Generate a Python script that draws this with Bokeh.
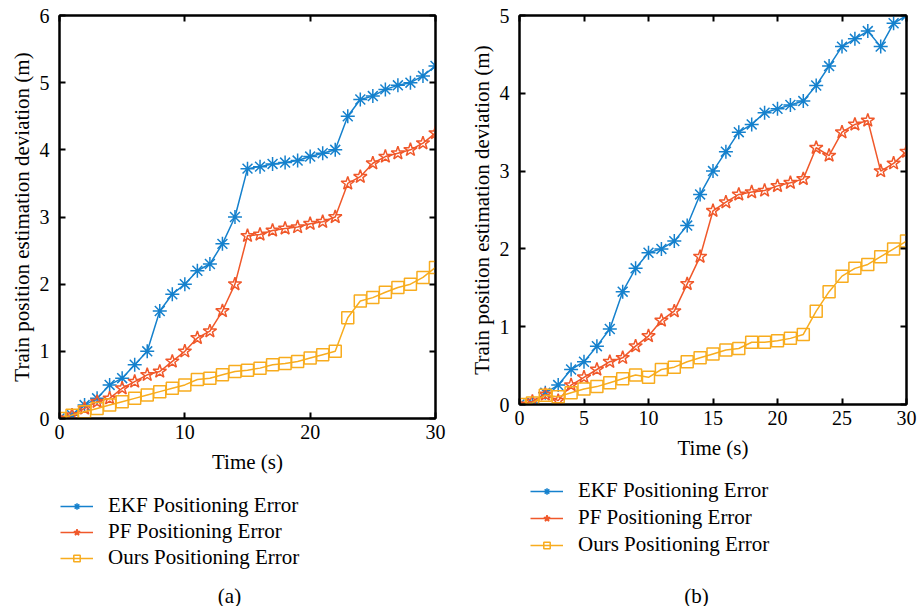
from bokeh.plotting import figure
from bokeh.layouts import row, column
from bokeh.core.properties import value
from bokeh.models import Range1d, LinearAxis, FixedTicker, Legend, LegendItem, Label
from bokeh.embed import file_html
from bokeh.resources import INLINE

# ---------------- data ----------------
time_s = list(range(31))

ekf_a = [0, 0.05, 0.2, 0.3, 0.5, 0.6, 0.8, 1.0, 1.6, 1.85, 2.0, 2.2, 2.3, 2.6, 3.0,
         3.72, 3.75, 3.79, 3.81, 3.84, 3.9, 3.95, 4.0, 4.5, 4.75, 4.8, 4.9, 4.96, 5.0, 5.1, 5.25]
pf_a = [0, 0.05, 0.15, 0.25, 0.3, 0.45, 0.55, 0.65, 0.7, 0.85, 1.0, 1.2, 1.3, 1.6, 2.0,
        2.72, 2.74, 2.8, 2.83, 2.85, 2.9, 2.93, 3.0, 3.5, 3.6, 3.8, 3.9, 3.95, 4.0, 4.1, 4.25]
ours_a = [0, 0.05, 0.1, 0.15, 0.2, 0.25, 0.3, 0.35, 0.4, 0.45, 0.5, 0.58, 0.6, 0.65, 0.7,
          0.72, 0.75, 0.8, 0.82, 0.85, 0.9, 0.95, 1.0, 1.5, 1.75, 1.8, 1.88, 1.95, 2.0, 2.1, 2.25]

ekf_b = [0, 0.02, 0.15, 0.25, 0.45, 0.55, 0.75, 0.97, 1.45, 1.75, 1.95, 2.0, 2.1, 2.3, 2.7,
         3.0, 3.25, 3.5, 3.6, 3.75, 3.8, 3.85, 3.9, 4.1, 4.35, 4.6, 4.7, 4.8, 4.6, 4.9, 5.0]
pf_b = [0, 0.04, 0.13, 0.05, 0.25, 0.35, 0.45, 0.55, 0.6, 0.75, 0.88, 1.08, 1.2, 1.55, 1.9,
        2.49, 2.6, 2.7, 2.73, 2.75, 2.81, 2.85, 2.9, 3.3, 3.2, 3.5, 3.6, 3.65, 3.0, 3.1, 3.25]
ours_b = [0, 0.02, 0.12, 0.1, 0.15, 0.2, 0.23, 0.28, 0.33, 0.38, 0.35, 0.45, 0.48, 0.55, 0.6,
          0.65, 0.7, 0.72, 0.8, 0.8, 0.82, 0.85, 0.9, 1.2, 1.45, 1.65, 1.75, 1.8, 1.9, 2.0, 2.1]

series_names = ["EKF Positioning Error", "PF Positioning Error", "Ours Positioning Error"]
x_ticks_a = [0, 10, 20, 30]
x_ticks_b = [0, 5, 10, 15, 20, 25, 30]
y_ticks_a = [0, 1, 2, 3, 4, 5, 6]
y_ticks_b = [0, 1, 2, 3, 4, 5]

COLORS = ["#1581CD", "#F0582A", "#F8AC1E"]
MARKERS = ["asterisk", "star", "square"]
MSIZES = [14, 14, 12]
FONT = "Liberation Serif"


def add_series(p, ys):
    rs = []
    for y, c, m, s in zip(ys, COLORS, MARKERS, MSIZES):
        ln = p.line(time_s, y, line_color=c, line_width=1.5)
        sc = p.scatter(time_s, y, marker=m, size=s, line_color=c, line_width=1.5,
                       fill_color=None)
        rs.append((ln, sc))
    return rs


def make_panel(ys, xticks, ymax, yticks, width, height, mb_left, mb_right):
    p = figure(width=width, height=height, output_backend="svg", toolbar_location=None,
               x_range=Range1d(0, 30), y_range=Range1d(0, ymax),
               min_border_left=mb_left, min_border_right=mb_right,
               min_border_top=15, min_border_bottom=62)
    p.grid.visible = False
    p.outline_line_color = "black"
    p.outline_line_width = 2

    for ax, ticks in ((p.xaxis[0], xticks), (p.yaxis[0], yticks)):
        ax.ticker = FixedTicker(ticks=ticks)
        ax.axis_line_width = 2
        ax.major_tick_in = 6
        ax.major_tick_out = 0
        ax.major_tick_line_width = 2
        ax.minor_tick_line_color = None
        ax.major_label_text_font = FONT
        ax.major_label_text_font_size = "20px"
        ax.major_label_text_color = "black"
        ax.axis_label_text_font = FONT
        ax.axis_label_text_font_size = "21px"
        ax.axis_label_text_font_style = "normal"
        ax.axis_label_text_color = "black"
    p.xaxis.axis_label = "Time (s)"
    p.xaxis.major_label_standoff = 6
    p.xaxis.axis_label_standoff = 8
    p.yaxis.axis_label = "Train position estimation deviation (m)"
    p.yaxis.major_label_standoff = 10
    p.yaxis.axis_label_standoff = 3

    # mirrored ticks on top and right
    for loc, ticks in (("above", xticks), ("right", yticks)):
        ax = LinearAxis(ticker=FixedTicker(ticks=ticks))
        ax.axis_line_width = 2
        ax.major_tick_in = 6
        ax.major_tick_out = 0
        ax.major_tick_line_width = 2
        ax.minor_tick_line_color = None
        ax.major_label_text_font_size = "0px"
        ax.major_label_standoff = 0
        p.add_layout(ax, loc)

    add_series(p, ys)
    return p


def make_legend_fig(ys, width, height, leg_x, leg_y, spacing, cap_text, cap_x, cap_y):
    # legend strip below each panel; its sample glyphs use the same series,
    # kept out of view by the strip's ranges
    q = figure(width=width, height=height, output_backend="svg", toolbar_location=None,
               x_range=Range1d(1000, 1001), y_range=Range1d(1000, 1001),
               x_axis_type=None, y_axis_type=None, min_border=0)
    q.grid.visible = False
    q.outline_line_color = None
    rs = add_series(q, ys)
    items = [LegendItem(label=value(n), renderers=[ln, sc])
             for n, (ln, sc) in zip(series_names, rs)]
    leg = Legend(items=items, location=(leg_x, leg_y), orientation="vertical",
                 margin=0, padding=0, spacing=spacing,
                 glyph_width=33, glyph_height=16, label_height=24, label_standoff=15,
                 label_text_font=FONT, label_text_font_size="21px",
                 label_text_color="black",
                 border_line_color=None, background_fill_alpha=0)
    q.add_layout(leg, "center")
    cap = Label(x=cap_x, y=cap_y, x_units="screen", y_units="screen", text=cap_text,
                text_font=FONT, text_font_size="21px", text_color="black",
                text_align="center", text_baseline="middle")
    q.add_layout(cap)
    return q


pa = make_panel([ekf_a, pf_a, ours_a], x_ticks_a, 6, y_ticks_a,
                width=460, height=480, mb_left=59, mb_right=25)
pb = make_panel([ekf_b, pf_b, ours_b], x_ticks_b, 5, y_ticks_b,
                width=461, height=466, mb_left=59, mb_right=15)

la = make_legend_fig([ekf_a, pf_a, ours_a], 460, 126, 60, 36, 1, "(a)", 229, 11)
lb = make_legend_fig([ekf_b, pf_b, ours_b], 461, 126, 70, 49, 2, "(b)", 236, 11)

layout = column(row(pa, pb), row(la, lb))
open("out.html", "w").write(file_html(layout, INLINE))
